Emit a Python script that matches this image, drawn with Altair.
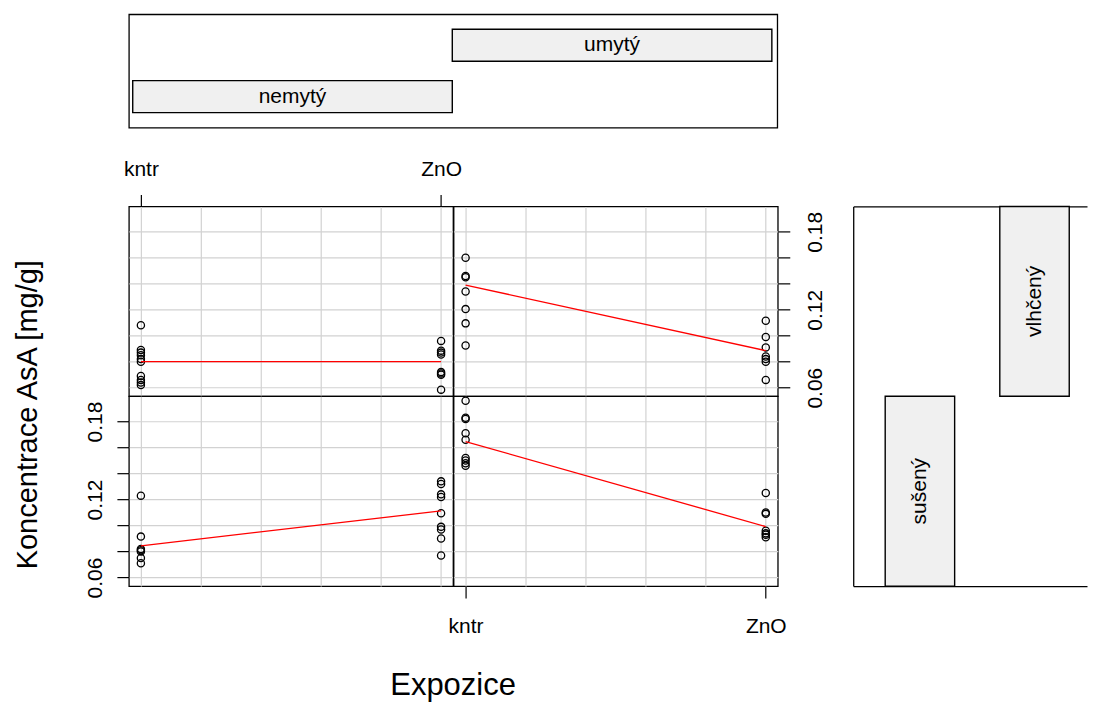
import altair as alt
import pandas as pd

FONT = "Liberation Sans"
GRID = "#d2d2d2"

# ---- categories ----
exposures = ["kntr", "ZnO"]
washing_levels = ["nemytý", "umytý"]
washing_lo = [0.5, 1.5]
washing_hi = [1.5, 2.5]
drying_levels = ["sušený", "vlhčený"]

# ---- axis tick values ----
x_grid = [1.0, 1.2, 1.4, 1.6, 1.8, 2.0]
y_ticks = [0.06, 0.08, 0.10, 0.12, 0.14, 0.16, 0.18]

# ---- AsA concentrations [mg/g] per panel ----
nemyty_vlhceny_kntr = [0.108, 0.089, 0.087, 0.085, 0.082, 0.080, 0.069, 0.066, 0.064, 0.062]
nemyty_vlhceny_zno = [0.096, 0.0885, 0.087, 0.0855, 0.072, 0.071, 0.070, 0.0585]
umyty_vlhceny_kntr = [0.160, 0.146, 0.145, 0.134, 0.1205, 0.1095, 0.0925]
umyty_vlhceny_zno = [0.1115, 0.099, 0.091, 0.084, 0.082, 0.080, 0.066]
nemyty_suseny_kntr = [0.123, 0.0915, 0.082, 0.081, 0.080, 0.075, 0.071]
nemyty_suseny_zno = [0.134, 0.132, 0.124, 0.122, 0.1095, 0.099, 0.097, 0.090, 0.077]
umyty_suseny_kntr = [0.196, 0.183, 0.182, 0.171, 0.166, 0.152, 0.150, 0.148, 0.146]
umyty_suseny_zno = [0.125, 0.110, 0.109, 0.096, 0.094, 0.093, 0.091]

# ---- fitted (red) line values at kntr, ZnO ----
fit_nemyty_vlhceny = [0.0800, 0.0800]
fit_umyty_vlhceny = [0.1390, 0.0885]
fit_nemyty_suseny = [0.0844, 0.1113]
fit_umyty_suseny = [0.1646, 0.0992]

XPOS = "indexof(" + str(exposures) + ", datum.expozice) + 1"
XLAB = f"datum.value == 1 ? '{exposures[0]}' : (datum.value == 2 ? '{exposures[1]}' : '')"
XTICK = {"condition": {"test": "datum.value == 1 || datum.value == 2", "value": 1}, "value": 0}
YLAB = "round(datum.value * 100) % 6 == 0 ? format(datum.value, '.2f') : ''"

LABEL_SIZE = 21
PW = 324.5
PH = 190


def grid_axis(values):
    return alt.Axis(values=values, grid=True, ticks=False, labels=False,
                    domain=False, title=None)


top_axis = alt.Axis(orient="top", values=x_grid, grid=True, domain=False, title=None,
                    labelExpr=XLAB, tickOpacity=XTICK, tickSize=12, labelPadding=15,
                    labelFontSize=LABEL_SIZE, labelOverlap=False, labelFlush=False,
                    labelAlign="center", labelBaseline="bottom")
bottom_axis = alt.Axis(orient="bottom", values=x_grid, grid=True, domain=False,
                       title="Expozice", titleX=-1, titleY=100, titleAlign="center",
                       titleBaseline="middle", titleAngle=0, titleFontSize=31,
                       labelExpr=XLAB, tickOpacity=XTICK, tickSize=12, labelPadding=17,
                       labelFontSize=LABEL_SIZE, labelOverlap=False, labelFlush=False,
                       labelAlign="center", labelBaseline="top")
left_axis = alt.Axis(orient="left", values=y_ticks, grid=True, domain=False,
                     title="Koncentrace AsA [mg/g]", titleX=-101, titleY=18,
                     titleAngle=270, titleAlign="center", titleBaseline="middle",
                     titleFontSize=29,
                     labelExpr=YLAB, tickSize=12, labelPadding=11, labelAngle=270,
                     labelAlign="center", labelBaseline="bottom",
                     labelFontSize=LABEL_SIZE, labelOverlap=False, labelFlush=False)
right_axis = alt.Axis(orient="right", values=y_ticks, grid=True, domain=False, title=None,
                      labelExpr=YLAB, tickSize=12, labelPadding=15, labelAngle=270,
                      labelAlign="center", labelBaseline="top",
                      labelFontSize=LABEL_SIZE, labelOverlap=False, labelFlush=False)


def panel(kntr, zno, fit, xaxis, yaxis):
    pts = pd.DataFrame({
        "expozice": [exposures[0]] * len(kntr) + [exposures[1]] * len(zno),
        "asa": kntr + zno,
    })
    fdf = pd.DataFrame({"expozice": exposures, "fit": fit})
    xs = alt.Scale(domain=[0.96, 2.04], nice=False, zero=False)
    ys = alt.Scale(domain=[0.0534, 0.1995], nice=False, zero=False)
    p = alt.Chart(pts).transform_calculate(xpos=XPOS).mark_point(
        shape="circle", filled=False, color="black", size=52, strokeWidth=1.3, opacity=1
    ).encode(
        x=alt.X("xpos:Q", scale=xs, axis=xaxis),
        y=alt.Y("asa:Q", scale=ys, axis=yaxis),
    )
    ln = alt.Chart(fdf).transform_calculate(xpos=XPOS).mark_line(
        color="red", strokeWidth=1.3
    ).encode(
        x=alt.X("xpos:Q", scale=xs, axis=xaxis),
        y=alt.Y("fit:Q", scale=ys, axis=yaxis),
    )
    return alt.layer(p, ln).properties(width=PW, height=PH)


TL = panel(nemyty_vlhceny_kntr, nemyty_vlhceny_zno, fit_nemyty_vlhceny, top_axis, grid_axis(y_ticks))
TR = panel(umyty_vlhceny_kntr, umyty_vlhceny_zno, fit_umyty_vlhceny, grid_axis(x_grid), right_axis)
BL = panel(nemyty_suseny_kntr, nemyty_suseny_zno, fit_nemyty_suseny, grid_axis(x_grid), left_axis)
BR = panel(umyty_suseny_kntr, umyty_suseny_zno, fit_umyty_suseny, bottom_axis, grid_axis(y_ticks))

grid = alt.concat(TL, TR, BL, BR, columns=2, spacing=0, bounds="flush")

# ---- top conditioning panel (washing) ----
top_df = pd.DataFrame({"level": washing_levels, "lo": washing_lo, "hi": washing_hi})
tx = alt.Scale(domain=[0.488, 2.517], nice=False, zero=False)
ty = alt.Scale(domain=washing_levels[::-1], paddingInner=0.377, paddingOuter=0.2915)
tbase = alt.Chart(top_df).transform_calculate(mid="(datum.lo + datum.hi) / 2")
t_rect = tbase.mark_rect(fill="#f0f0f0", stroke="black", strokeWidth=1.4).encode(
    x=alt.X("lo:Q", scale=tx, axis=None), x2="hi:Q",
    y=alt.Y("level:N", scale=ty, axis=None),
)
t_text = tbase.mark_text(font=FONT, fontSize=LABEL_SIZE, color="black", baseline="middle").encode(
    x=alt.X("mid:Q", scale=tx, axis=None),
    y=alt.Y("level:N", scale=ty, axis=None),
    text="level:N",
)
topbox = alt.layer(t_rect, t_text).properties(width=649, height=113.4)

# ---- right conditioning panel (drying) ----
right_df = pd.DataFrame({"level": drying_levels})
rx = alt.Scale(domain=drying_levels, paddingInner=0.394, paddingOuter=0.217, align=0.643)
ry = alt.Scale(domain=drying_levels[::-1], paddingInner=0, paddingOuter=0)
border = dict(domain=True, ticks=False, labels=False, title=None, grid=False,
              domainColor="black", domainWidth=1.3)
left_border = alt.Axis(orient="left", **border)
r_rect = alt.Chart(right_df).mark_rect(fill="#f0f0f0", stroke="black", strokeWidth=1.4).encode(
    x=alt.X("level:N", scale=rx, axis=alt.Axis(orient="bottom", **border)),
    y=alt.Y("level:N", scale=ry, axis=left_border),
)
r_text = alt.Chart(right_df).mark_text(font=FONT, fontSize=LABEL_SIZE, color="black",
                                       angle=270, baseline="middle").encode(
    x=alt.X("level:N", scale=rx, axis=alt.Axis(orient="top", **border)),
    y=alt.Y("level:N", scale=ry, axis=left_border),
    text="level:N",
)
rightbox = alt.layer(r_rect, r_text).resolve_axis(x="independent").properties(
    width=234, height=380, view=alt.ViewBackground(stroke="transparent")
)

middle = alt.hconcat(grid, rightbox, spacing=725, bounds="flush")

chart = alt.vconcat(topbox, middle, spacing=78.3, bounds="flush").properties(
    padding={"left": 5, "top": 5, "right": 0, "bottom": 0}
).configure_view(
    stroke="black", strokeWidth=1.3
).configure_axis(
    gridColor=GRID, gridWidth=1.2, tickColor="black", tickWidth=1.2,
    labelFont=FONT, labelColor="black", titleFont=FONT, titleColor="black",
    titleFontWeight="normal",
)

chart.save("out.html", embed_options={"renderer": "svg", "actions": False})
